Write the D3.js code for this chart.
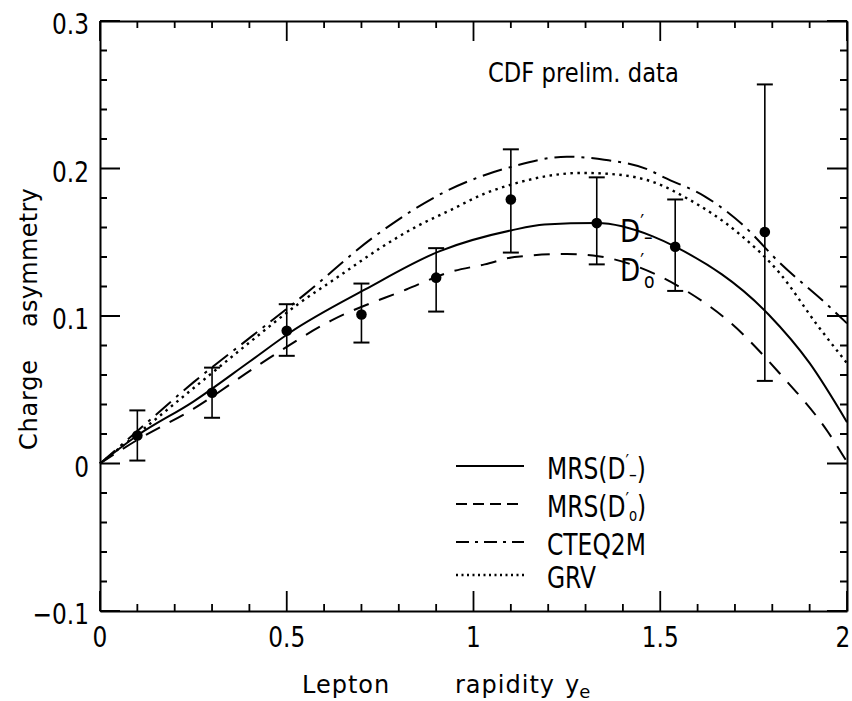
<!DOCTYPE html>
<html>
<head>
<meta charset="utf-8">
<script src="https://cdn.jsdelivr.net/npm/d3@7"></script>
<style>
body { margin: 0; background: #fff; }
svg { display: block; }
text { font-family: "DejaVu Sans", sans-serif; fill: #000; }
</style>
</head>
<body>
<svg id="chart" width="852" height="701"></svg>
<script>
// tick labels
const xMajor = [0, 0.5, 1, 1.5, 2];
const xLabels = ["0", "0.5", "1", "1.5", "2"];
const yMajor = [-0.1, 0, 0.1, 0.2, 0.3];
const yLabels = ["\u22120.1", "0", "0.1", "0.2", "0.3"];

// CDF preliminary data
const dataX = [0.1, 0.3, 0.5, 0.7, 0.9, 1.1, 1.33, 1.54, 1.78];
const dataY = [0.019, 0.048, 0.090, 0.101, 0.126, 0.179, 0.163, 0.147, 0.157];
const errLo = [0.002, 0.031, 0.073, 0.082, 0.103, 0.143, 0.135, 0.117, 0.056];
const errHi = [0.036, 0.065, 0.108, 0.122, 0.146, 0.213, 0.194, 0.179, 0.257];

// theory curves
const mrsMinusX = [0, 0.1, 0.25, 0.4, 0.51, 0.71, 0.91, 1.1, 1.19, 1.33, 1.48, 1.54, 1.79, 1.9, 2.0];
const mrsMinusY = [0, 0.019, 0.042, 0.069, 0.089, 0.118, 0.144, 0.158, 0.162, 0.163, 0.154, 0.147, 0.101, 0.068, 0.028];

const mrsZeroX = [0, 0.1, 0.25, 0.42, 0.62, 0.82, 0.94, 1.03, 1.11, 1.25, 1.32, 1.49, 1.57, 1.69, 1.82, 1.95, 2.0];
const mrsZeroY = [0, 0.016, 0.037, 0.066, 0.097, 0.118, 0.130, 0.135, 0.140, 0.142, 0.141, 0.128, 0.117, 0.095, 0.061, 0.021, 0.001];

const cteqX = [0, 0.1, 0.25, 0.405, 0.55, 0.73, 0.93, 1.1, 1.25, 1.35, 1.47, 1.51, 1.62, 1.72, 1.82, 1.95, 2.0];
const cteqY = [0, 0.022, 0.055, 0.086, 0.115, 0.153, 0.185, 0.201, 0.208, 0.206, 0.199, 0.194, 0.181, 0.162, 0.136, 0.107, 0.095];

const grvX = [0, 0.1, 0.25, 0.4, 0.53, 0.64, 0.75, 0.85, 0.94, 1.03, 1.1, 1.2, 1.29, 1.38, 1.49, 1.57, 1.71, 1.82, 1.92, 2.0];
const grvY = [0, 0.020, 0.051, 0.082, 0.108, 0.127, 0.146, 0.161, 0.172, 0.183, 0.189, 0.195, 0.197, 0.196, 0.190, 0.180, 0.156, 0.129, 0.094, 0.068];

let svg = d3.select("#chart");
const x = d3.scaleLinear().domain([0, 2]).range([100, 847]);
const y = d3.scaleLinear().domain([-0.1, 0.3]).range([611, 21]);

// text helper, the lettering is narrow so squeeze it a bit
function label(px, py, size, anchor, sx, rot) {
    let g = svg.append("g")
        .attr("transform", "translate(" + px + "," + py + ")" + (rot ? " rotate(" + rot + ")" : "") + " scale(" + sx + ",1)");
    return g.append("text").attr("font-size", size).attr("text-anchor", anchor);
}

// frame from the axes
function side(axis, tr) {
    let g = svg.append("g").attr("transform", tr)
        .call(axis.tickValues([]).tickSize(0).tickFormat(() => ""));
    g.select(".domain").attr("stroke", "#000").attr("stroke-width", 2);
}
side(d3.axisBottom(x), "translate(0," + y(-0.1) + ")");
side(d3.axisTop(x), "translate(0," + y(0.3) + ")");
side(d3.axisLeft(y), "translate(" + x(0) + ",0)");
side(d3.axisRight(y), "translate(" + x(2) + ",0)");

// inward ticks on all four sides, one path
function isMajor(list, v) { return list.some(m => Math.abs(m - v) < 1e-9); }
let td = "";
x.ticks(20).forEach(function(v) {
    let len = isMajor(xMajor, v) ? 20 : 7;
    let px = x(v);
    td += "M" + px + "," + y(-0.1) + "V" + (y(-0.1) - len);
    td += "M" + px + "," + y(0.3) + "V" + (y(0.3) + len);
});
y.ticks(20).forEach(function(v) {
    let len = isMajor(yMajor, v) ? 20 : 7;
    let py = y(v);
    td += "M" + x(0) + "," + py + "H" + (x(0) + len);
    td += "M" + x(2) + "," + py + "H" + (x(2) - len);
});
svg.append("path").attr("d", td).attr("fill", "none").attr("stroke", "#000").attr("stroke-width", 1.8);

// tick labels
xMajor.forEach(function(v, i) {
    label(Math.min(x(v), 843), 647, 28, "middle", 0.83).text(xLabels[i]);
});
yMajor.forEach(function(v, i) {
    label(89, y(v) + 13, 28, "end", 0.83).text(yLabels[i]);
});

// axis titles
label(37, 450, 24, "start", 1, -90).attr("letter-spacing", 0.8).text("Charge");
label(37, 327, 24, "start", 1, -90).attr("letter-spacing", 0.3).text("asymmetry");
label(302, 693, 24, "start", 1).attr("letter-spacing", 1).text("Lepton");
label(455, 693, 24, "start", 1).attr("letter-spacing", 1).text("rapidity");
let ye = label(565, 693, 24, "start", 1);
ye.append("tspan").text("y");
ye.append("tspan").attr("font-size", 18).attr("dy", 5).text("e");

label(488, 82, 27, "start", 0.84).text("CDF prelim. data");

// curves
const line = d3.line().x(d => x(d[0])).y(d => y(d[1])).curve(d3.curveMonotoneX);
const curves = [
    {xs: mrsMinusX, ys: mrsMinusY, dash: null, ldash: null, w: 2},
    {xs: mrsZeroX, ys: mrsZeroY, dash: "16,11", ldash: "11,6", w: 2},
    {xs: cteqX, ys: cteqY, dash: "20,7,3,7", ldash: "13,6,3,6", w: 2},
    {xs: grvX, ys: grvY, dash: "2.5,4.5", ldash: "2,3.5", w: 2.4}
];
curves.forEach(function(c) {
    svg.append("path")
        .attr("d", line(d3.zip(c.xs, c.ys)))
        .attr("fill", "none")
        .attr("stroke", "#000")
        .attr("stroke-width", c.w)
        .attr("stroke-dasharray", c.dash);
});

// data with error bars
let pts = svg.append("g");
dataX.forEach(function(v, i) {
    let cx = x(v);
    pts.append("line").attr("x1", cx).attr("x2", cx)
        .attr("y1", y(errLo[i])).attr("y2", y(errHi[i]))
        .attr("stroke", "#000").attr("stroke-width", 1.6);
    [errLo[i], errHi[i]].forEach(function(e) {
        pts.append("line").attr("x1", cx - 8).attr("x2", cx + 8)
            .attr("y1", y(e)).attr("y2", y(e))
            .attr("stroke", "#000").attr("stroke-width", 2);
    });
    pts.append("circle").attr("cx", cx).attr("cy", y(dataY[i])).attr("r", 5.3).attr("fill", "#000");
});

// D' labels next to the curves
function dlabel(px, py, sub, subDy) {
    let t = label(px, py, 32, "start", 0.82);
    t.append("tspan").text("D");
    t.append("tspan").attr("font-size", 21).attr("dy", -12).text("\u2032");
    t.append("tspan").attr("font-size", 21).attr("dy", 12 + subDy).text(sub);
    return t;
}
dlabel(620, 242, "\u2013", 2);
dlabel(620, 281, "o", 7);

// legend
const legendNames = ["MRS(D", "MRS(D", "CTEQ2M", "GRV"];
const legendSubs = ["\u2013", "o", null, null];
const legendLineY = [466, 504, 542, 575];
curves.forEach(function(c, i) {
    let ly = legendLineY[i];
    svg.append("line").attr("x1", 456).attr("x2", 524)
        .attr("y1", ly).attr("y2", ly)
        .attr("stroke", "#000").attr("stroke-width", c.w)
        .attr("stroke-dasharray", c.ldash);
    let t = label(547, ly + 13, 30, "start", 0.78);
    t.append("tspan").text(legendNames[i]);
    if (legendSubs[i]) {
        let isO = legendSubs[i] === "o";
        t.append("tspan").attr("font-size", 20).attr("dy", -11).text("\u2032");
        t.append("tspan").attr("font-size", isO ? 17 : 20).attr("dy", isO ? 15 : 13).text(legendSubs[i]);
        t.append("tspan").attr("dy", isO ? -4 : -2).text(")");
    }
});
</script>
</body>
</html>
